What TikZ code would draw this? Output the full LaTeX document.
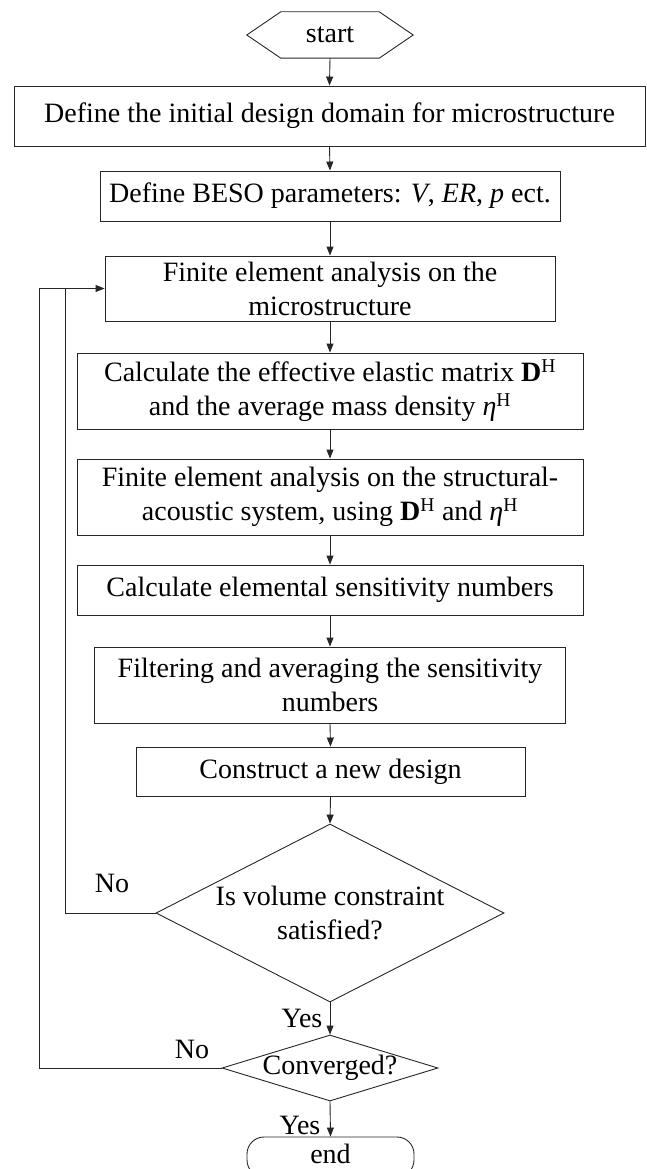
\documentclass[tikz,border=0pt]{standalone}
\usepackage{fontspec}
\setmainfont{Liberation Serif}
\usetikzlibrary{arrows.meta,shapes.geometric}
\begin{document}
\begin{tikzpicture}[x=1pt,y=-1pt,
  every node/.style={font=\fontsize{28}{34}\selectfont, text=black},
  box/.style={draw=black!85, line width=0.9pt, align=center, inner sep=0pt},
  ln/.style={draw=black!85, line width=0.9pt},
  arr/.style={draw=black!85, line width=0.9pt, -{Triangle[length=9pt,width=7pt]}},
  dec/.style={draw=black!85, line width=0.9pt, diamond, inner sep=0pt},
  lbl/.style={inner sep=0pt}]
\useasboundingbox (0,0) rectangle (646,1169);

% start
\node[inner sep=0pt, minimum width=166pt, minimum height=46pt] (s) at (330,35) {start};
\draw[ln] (s.west) -- ([xshift=34pt]s.north west) -- ([xshift=-34pt]s.north east)
  -- (s.east) -- ([xshift=-34pt]s.south east) -- ([xshift=34pt]s.south west) -- cycle;

% boxes
\node[box, minimum width=631pt, minimum height=60pt] (b1) at (329.5,116)
  {Define the initial design domain for microstructure};
\node[box, minimum width=460pt, minimum height=50pt] (b2) at (330,196)
  {Define BESO parameters: \textit{V}, \textit{ER}, \textit{p} ect.};
\node[box, minimum width=450pt, minimum height=65pt] (b3) at (330,288.5)
  {Finite element analysis on the\\microstructure};
\node[box, minimum width=506pt, minimum height=76pt] (b4) at (330,391)
  {Calculate the effective elastic matrix \textbf{D}\textsuperscript{H}\\and the average mass density \textit{η}\textsuperscript{H}};
\node[box, minimum width=506pt, minimum height=76pt] (b5) at (330,497)
  {Finite element analysis on the structural-\\acoustic system, using \textbf{D}\textsuperscript{H} and \textit{η}\textsuperscript{H}};
\node[box, minimum width=506pt, minimum height=50pt] (b6) at (330,590)
  {Calculate elemental sensitivity numbers};
\node[box, minimum width=471pt, minimum height=76pt] (b7) at (330,685)
  {Filtering and averaging the sensitivity\\numbers};
\node[box, minimum width=389pt, minimum height=49pt] (b8) at (330.5,771.5)
  {Construct a new design};

% decisions
\node[dec, minimum width=348pt, minimum height=178pt] (d1) at (330,913) {};
\node[align=center, inner sep=0pt] (t1) at (330,913) {Is volume constraint\\satisfied?};
\node[dec, minimum width=216pt, minimum height=66pt] (d2) at (330,1068) {};
\node[inner sep=0pt] (t2) at (330,1068) {Converged?};

% end
\node[draw=black!85, line width=0.9pt, rounded corners=17pt, minimum width=167pt, minimum height=40pt, inner sep=0pt] (e) at (330.5,1157) {};
\node[inner sep=0pt] (et) at (330.5,1154) {end};

% connectors
\draw[arr] (s.south) -- (b1.north);
\draw[arr] (b1.south) -- (b2.north);
\draw[arr] (b2.south) -- (b3.north);
\draw[arr] (b3.south) -- (b4.north);
\draw[arr] (b4.south) -- (b5.north);
\draw[arr] (b5.south) -- (b6.north);
\draw[arr] (b6.south) -- (b7.north);
\draw[arr] (b7.south) -- (b8.north);
\draw[arr] (b8.south) -- (d1.north);
\draw[arr] (d1.south) -- (d2.north);
\draw[arr] (d2.south) -- (e.north);

\coordinate (j1) at (65,288.5);
\coordinate (j2) at (39,288.5);
\draw[arr] (d1.west) -| (j1) -- (b3.west);
\draw[ln] (d2.west) -| (j2) -- (j1);

% labels
\node[lbl] (n1) at (112,883) {No};
\node[lbl] (n2) at (192,1049) {No};
\node[lbl] (y1) at (302,1018) {Yes};
\node[lbl] (y2) at (300,1125) {Yes};
\end{tikzpicture}
\end{document}
